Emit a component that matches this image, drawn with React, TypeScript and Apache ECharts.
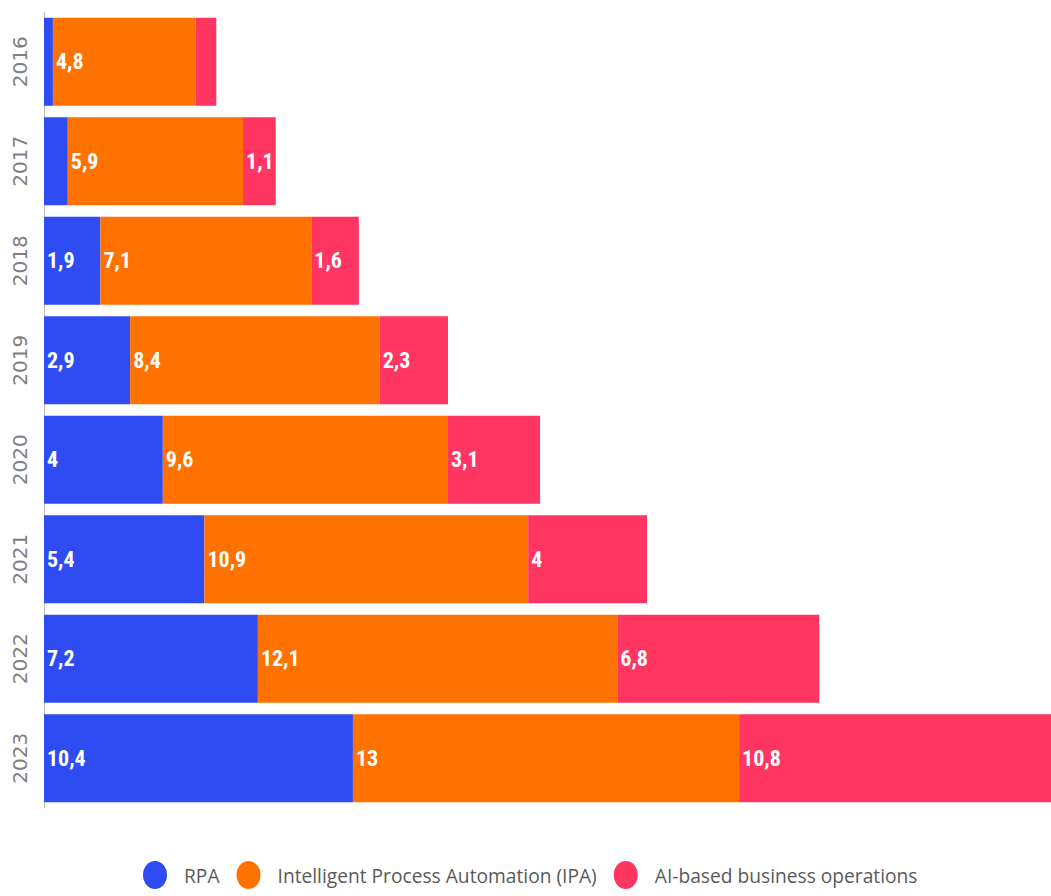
import React, { useEffect, useRef } from "react";
import * as echarts from "echarts";

const years = ["2016", "2017", "2018", "2019", "2020", "2021", "2022", "2023"];
const rpa = [0.3, 0.8, 1.9, 2.9, 4, 5.4, 7.2, 10.4];
const ipa = [4.8, 5.9, 7.1, 8.4, 9.6, 10.9, 12.1, 13];
const ai = [0.7, 1.1, 1.6, 2.3, 3.1, 4, 6.8, 10.8];
const rpaLabelShown = [false, false, true, true, true, true, true, true];
const aiLabelShown = [false, true, true, true, true, true, true, true];
const ipaLabelShown = [true, true, true, true, true, true, true, true];

const seriesNames = ["RPA", "Intelligent Process Automation (IPA)", "AI-based business operations"];
const colors = ["#2f4cf2", "#ff7200", "#ff3562"];

export default function App() {
  const ref = useRef<HTMLDivElement>(null);
  useEffect(() => {
    document.body.style.margin = "0";
    const chart = echarts.init(ref.current!, null, { renderer: "svg" });
    const mk = (vals: number[], shown: boolean[]) =>
      vals.map((v, i) => ({ value: v, label: { show: shown[i] } }));
    const labelCfg = {
      show: true,
      position: "insideLeft" as const,
      distance: 3,
      color: "#ffffff",
      fontFamily: "'Liberation Sans Narrow', 'Roboto Condensed', Roboto",
      fontWeight: "bold",
      fontSize: 22,
      formatter: (p: any) => String(p.value).replace(".", ","),
    };
    const data = [mk(rpa, rpaLabelShown), mk(ipa, ipaLabelShown), mk(ai, aiLabelShown)];
    chart.setOption({
      animation: false,
      backgroundColor: "#ffffff",
      grid: { left: 44, top: 12, bottom: 88, right: 0, containLabel: false },
      xAxis: { type: "value", min: 0, max: 33.9, show: false },
      yAxis: {
        type: "category",
        data: years,
        inverse: true,
        axisLine: { show: true, lineStyle: { color: "#bbbbbb", width: 1 } },
        axisTick: { show: false },
        axisLabel: {
          rotate: 90,
          color: "#808080",
          fontSize: 20,
          fontFamily: "DejaVu Sans",
          margin: 14,
        },
      },
      legend: {
        bottom: 2,
        left: 138,
        icon: "path://M12,0 A12,14 0 1,1 12,28 A12,14 0 1,1 12,0 Z",
        itemWidth: 24,
        itemHeight: 28,
        itemGap: 17,
        textStyle: {
          color: "#5a5a5a",
          fontSize: 19.2,
          fontFamily: "Open Sans",
          padding: [0, 0, 0, 12],
        },
        data: seriesNames,
      },
      series: seriesNames.map((name, i) => ({
        name,
        type: "bar",
        stack: "total",
        barCategoryGap: "11.5%",
        itemStyle: { color: colors[i] },
        label: labelCfg,
        data: data[i],
      })),
    });
    return () => chart.dispose();
  }, []);
  return <div ref={ref} style={{ width: 1051, height: 896 }} />;
}
